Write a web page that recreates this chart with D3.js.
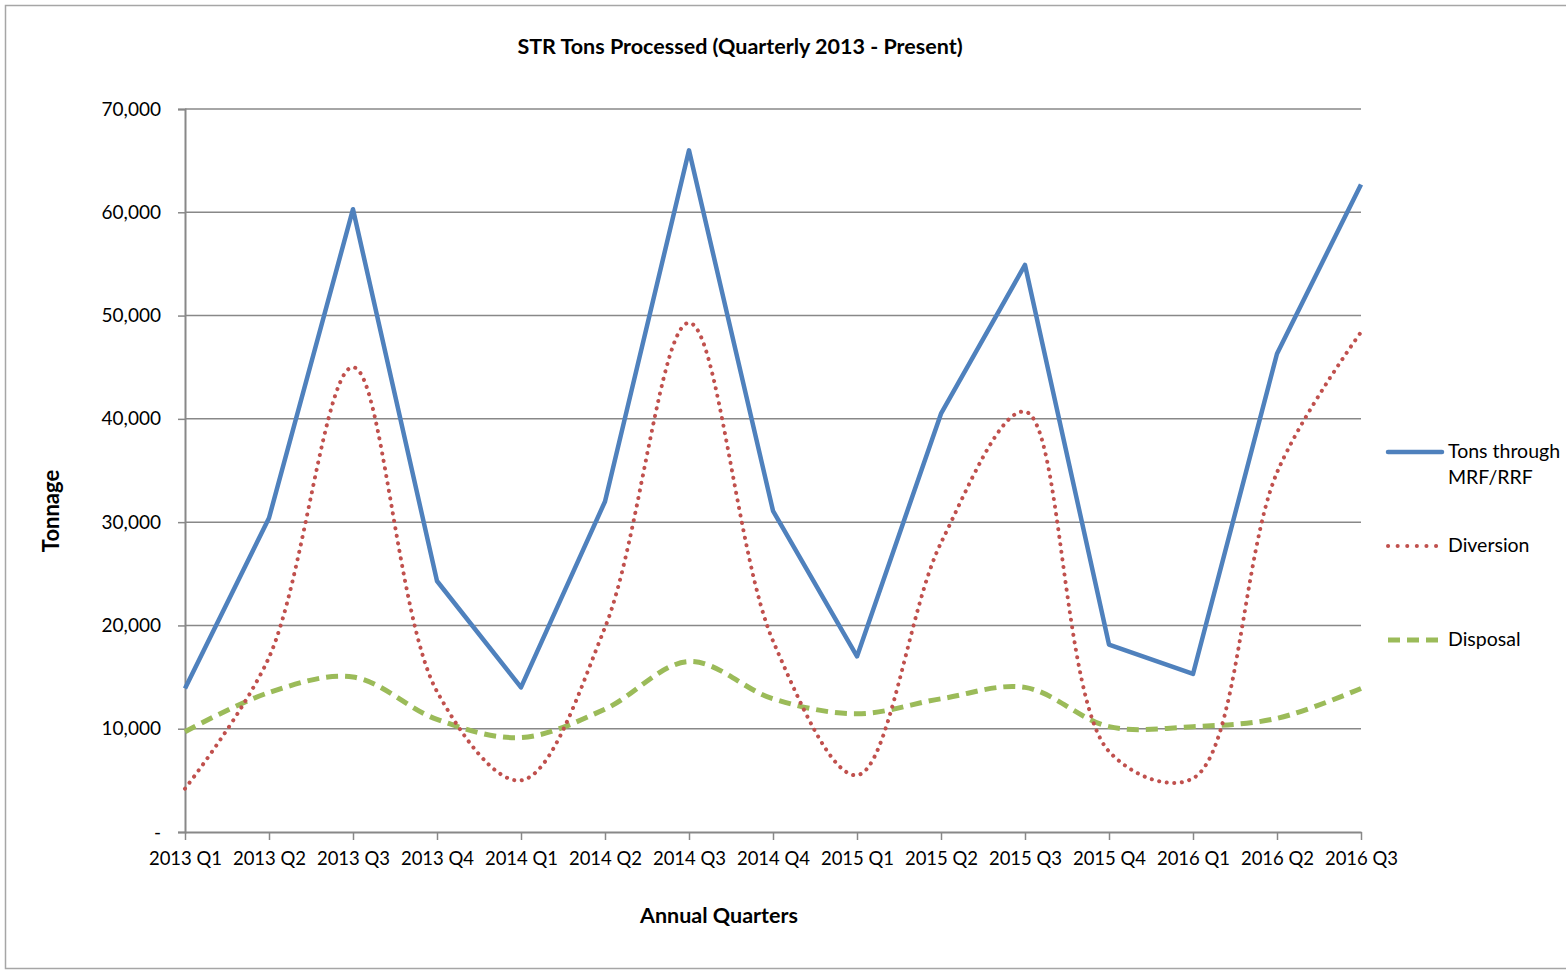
<!DOCTYPE html>
<html>
<head>
<meta charset="utf-8">
<script src="https://cdn.jsdelivr.net/npm/d3@7"></script>
<style>
  body { margin: 0; background: #fff; }
  text { font-family: Lato, "Open Sans", sans-serif; fill: #000; }
</style>
</head>
<body>
<div id="chart"></div>
<script>
// quarters on the x axis
const quarters = ["2013 Q1", "2013 Q2", "2013 Q3", "2013 Q4", "2014 Q1", "2014 Q2", "2014 Q3", "2014 Q4",
                  "2015 Q1", "2015 Q2", "2015 Q3", "2015 Q4", "2016 Q1", "2016 Q2", "2016 Q3"];

// series values (tons)
const tonsMrf   = [13900, 30400, 60300, 24300, 14000, 32000, 66000, 31100, 17000, 40500, 54900, 18150, 15300, 46300, 62700];
const diversion = [4200, 16900, 45000, 13600, 5000, 19800, 49300, 18500, 5500, 28000, 40700, 7800, 5200, 34800, 48400];
const disposal  = [9700, 13500, 15000, 10900, 9150, 11900, 16500, 12900, 11450, 12900, 14000, 10200, 10200, 11000, 13900];

const yTicks = [0, 10000, 20000, 30000, 40000, 50000, 60000, 70000];

const W = 1566, H = 973;
const plotLeft = 185, plotRight = 1361, plotTop = 109, plotBottom = 832;

const svg = d3.select("#chart")
    .append("svg")
    .attr("width", W)
    .attr("height", H);

// chart frame
svg.append("rect")
    .attr("x", 5.5).attr("y", 5.5)
    .attr("width", 1580).attr("height", 963)
    .attr("fill", "none")
    .attr("stroke", "#a6a6a6")
    .attr("stroke-width", 1.5);

const x = d3.scalePoint()
    .domain(quarters)
    .range([plotLeft, plotRight]);

const y = d3.scaleLinear()
    .domain([0, 70000])
    .range([plotBottom, plotTop]);

// gridlines
svg.append("g")
    .selectAll("line")
    .data(yTicks.filter(d => d > 0))
    .enter()
    .append("line")
    .attr("x1", plotLeft).attr("x2", plotRight)
    .attr("y1", d => y(d)).attr("y2", d => y(d))
    .attr("stroke", "#888")
    .attr("stroke-width", 1.5);

// y axis
const yAxis = svg.append("g")
    .attr("transform", "translate(" + plotLeft + ",0)")
    .call(d3.axisLeft(y).tickValues(yTicks).tickSize(7).tickPadding(17)
        .tickFormat(d => d === 0 ? "-" : d3.format(",")(d)));
yAxis.select(".domain").attr("stroke", "#888").attr("stroke-width", 2);
yAxis.selectAll(".tick line").attr("stroke", "#888").attr("stroke-width", 1.5);
yAxis.selectAll(".tick text")
    .attr("font-size", "19px")
    .attr("font-family", "Lato, 'Open Sans', sans-serif");

// x axis
const xAxis = svg.append("g")
    .attr("transform", "translate(0," + plotBottom + ")")
    .call(d3.axisBottom(x).tickSize(8).tickPadding(12).tickSizeOuter(0));
xAxis.select(".domain").attr("stroke", "#888").attr("stroke-width", 2);
xAxis.selectAll(".tick line").attr("stroke", "#888").attr("stroke-width", 1.5);
xAxis.selectAll(".tick text")
    .attr("font-size", "18.5px")
    .attr("font-family", "Lato, 'Open Sans', sans-serif");

// lines
const straight = d3.line()
    .x((d, i) => x(quarters[i]))
    .y(d => y(d));

const smooth = d3.line()
    .x((d, i) => x(quarters[i]))
    .y(d => y(d))
    .curve(d3.curveCatmullRom.alpha(0.5));

svg.append("path")
    .datum(disposal)
    .attr("d", smooth)
    .attr("fill", "none")
    .attr("stroke", "#9bbb59")
    .attr("stroke-width", 5)
    .attr("stroke-dasharray", "12,7");

svg.append("path")
    .datum(diversion)
    .attr("d", smooth)
    .attr("fill", "none")
    .attr("stroke", "#c0504d")
    .attr("stroke-width", 4)
    .attr("stroke-linecap", "round")
    .attr("stroke-dasharray", "0.1,7.5");

svg.append("path")
    .datum(tonsMrf)
    .attr("d", straight)
    .attr("fill", "none")
    .attr("stroke", "#4f81bd")
    .attr("stroke-width", 4.5)
    .attr("stroke-linejoin", "round");

// titles
svg.append("text")
    .attr("x", 740).attr("y", 54)
    .attr("text-anchor", "middle")
    .attr("font-size", "21.5px")
    .attr("font-weight", "bold")
    .text("STR Tons Processed (Quarterly 2013 - Present)");

svg.append("text")
    .attr("x", 719).attr("y", 923)
    .attr("text-anchor", "middle")
    .attr("font-size", "21.5px")
    .attr("font-weight", "bold")
    .text("Annual Quarters");

svg.append("text")
    .attr("transform", "translate(59,511) rotate(-90)")
    .attr("text-anchor", "middle")
    .attr("font-size", "22px")
    .attr("font-weight", "bold")
    .text("Tonnage");

// legend
const legend = svg.append("g");

legend.append("line")
    .attr("x1", 1388).attr("x2", 1442).attr("y1", 452).attr("y2", 452)
    .attr("stroke", "#4f81bd").attr("stroke-width", 4.5).attr("stroke-linecap", "round");
legend.append("text").attr("x", 1448).attr("y", 458).attr("font-size", "19.5px").text("Tons through");
legend.append("text").attr("x", 1448).attr("y", 484).attr("font-size", "19.5px").text("MRF/RRF");

legend.append("line")
    .attr("x1", 1388).attr("x2", 1440).attr("y1", 546).attr("y2", 546)
    .attr("stroke", "#c0504d").attr("stroke-width", 4).attr("stroke-linecap", "round")
    .attr("stroke-dasharray", "0.1,9.5");
legend.append("text").attr("x", 1448).attr("y", 552).attr("font-size", "19.5px").text("Diversion");

legend.append("line")
    .attr("x1", 1388).attr("x2", 1440).attr("y1", 640).attr("y2", 640)
    .attr("stroke", "#9bbb59").attr("stroke-width", 5)
    .attr("stroke-dasharray", "12,7");
legend.append("text").attr("x", 1448).attr("y", 646).attr("font-size", "19.5px").text("Disposal");
</script>
</body>
</html>
